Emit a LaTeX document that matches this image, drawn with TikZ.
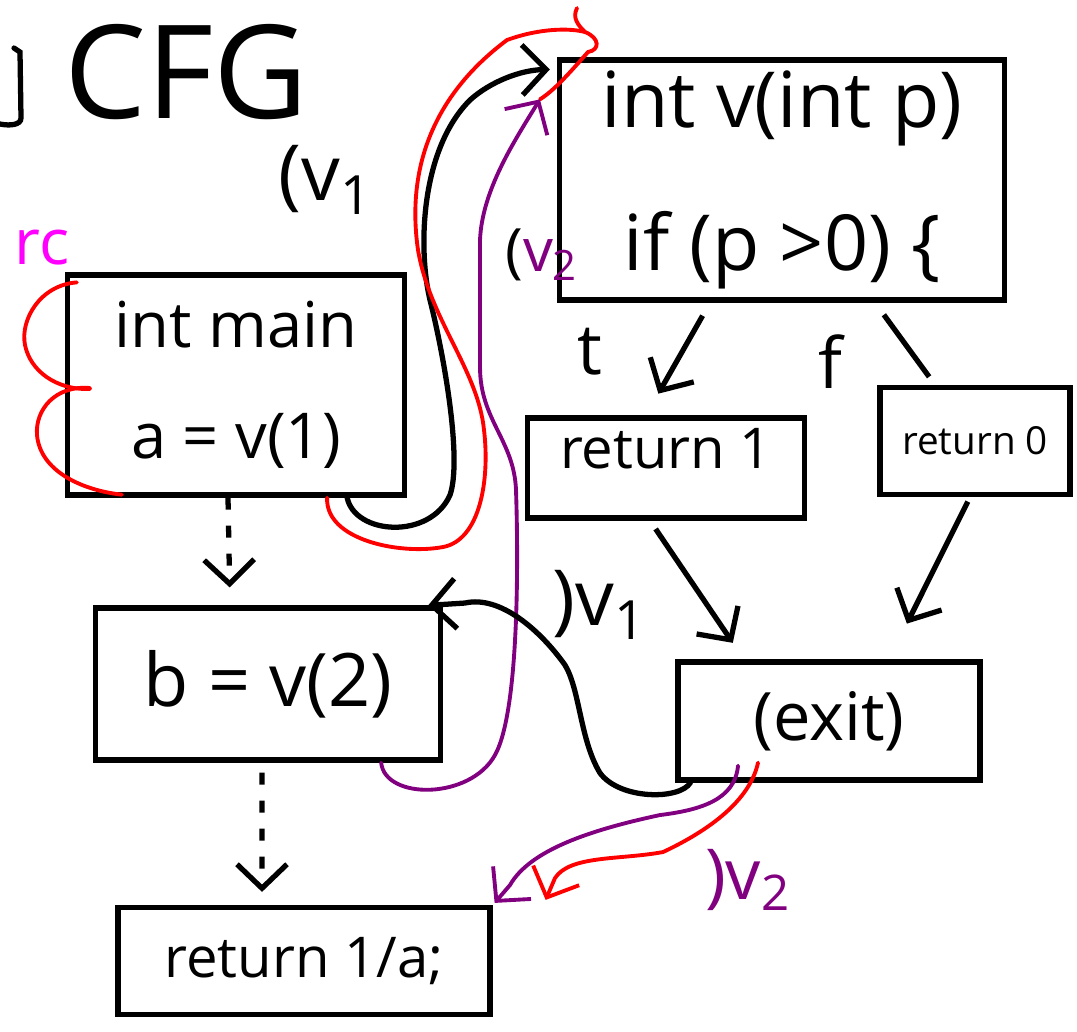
\documentclass[tikz,border=0pt]{standalone}
\usepackage{fontspec}
\setmainfont{Open Sans}
\usetikzlibrary{arrows.meta}
\definecolor{callred}{RGB}{255,0,0}
\definecolor{callpurple}{RGB}{128,0,128}
\definecolor{ctxmagenta}{RGB}{255,0,255}
\newcommand{\fs}[1]{\fontsize{#1}{1.4\dimexpr #1pt\relax}\selectfont}
\begin{document}
\begin{tikzpicture}[x=0.1mm,y=-0.1mm,
  blockbox/.style={draw,line width=1.5pt,inner sep=0pt,align=center},
  tip/.style={-{Straight Barb[length=2.4mm,width=5mm]}},
  flowedge/.style={line width=1.5pt,tip},
  dotedge/.style={line width=1.5pt,tip,dash pattern=on 1.2mm off 1.6mm},
  blackcall/.style={line width=1.5pt,line cap=round},
  redcall/.style={line width=1.1pt,callred,line cap=round},
  purplecall/.style={line width=1.1pt,callpurple,line cap=round},
  tag/.style={inner sep=0pt,font=\fs{20}}]
  \useasboundingbox (0,0) rectangle (1077,1031);
  % title
  \node[tag,font=\fs{37}] (title) at (186,72) {CFG};
  \draw[line width=1.5pt,line cap=round] (14,48) -- (20,52) -- (21,118) .. controls (21,125) and (10,126) .. (0,124);
  % blocks
  \node[blockbox,minimum width=33.7mm,minimum height=22mm,font=\fs{18}] (main) at (236,385) {int main\\[2.2mm]a = v(1)};
  \node[blockbox,minimum width=34.5mm,minimum height=15.2mm,font=\fs{21}] (bcall) at (268,684) {b = v(2)};
  \node[blockbox,minimum width=37.2mm,minimum height=10.7mm,font=\fs{16}] (ret) at (304,961) {return 1/a;};
  \node[blockbox,minimum width=44.5mm,minimum height=24mm,font=\fs{22}] (v) at (782,180) {int v(int p)\\[3.5mm]if (p >0) \{};
  \node[blockbox,minimum width=27.7mm,minimum height=10mm,font=\fs{16},text depth=4mm] (ret1) at (666,468) {return 1};
  \node[blockbox,minimum width=19mm,minimum height=10.7mm,font=\fs{11}] (ret0) at (975,441) {return 0};
  \node[blockbox,minimum width=30.2mm,minimum height=11.8mm,font=\fs{19}] (exit) at (829,721) {(exit)};
  % labels
  \node[tag,font=\fs{22}] (callone) at (326,180) {(v\textsubscript{1}};
  \node[tag,font=\fs{17}] (calltwo) at (542,255) {(\textcolor{callpurple}{v\textsubscript{2}}};
  \node[tag,font=\fs{22}] (retone) at (600,605) {)v\textsubscript{1}};
  \node[tag,font=\fs{20},text=callpurple] (rettwo) at (748,880) {)v\textsubscript{2}};
  \node[tag] (truelbl) at (590,352) {t};
  \node[tag] (falselbl) at (830,362) {f};
  \node[tag,font=\fs{18},text=ctxmagenta] (rclbl) at (42,248) {rc};
  % intra edges
  \draw[dotedge,shorten >=1.8mm] ([xshift=-0.8mm]main.south) -- ([xshift=-3.8mm]bcall.north);
  \draw[dotedge,shorten <=1mm,shorten >=1.3mm] ([xshift=-0.6mm]bcall.south) -- ([xshift=-4.2mm]ret.north);
  \draw[flowedge,shorten <=1.5mm,shorten >=2.5mm] ([xshift=-7.2mm]v.south) -- ([xshift=-2mm]ret1.north);
  \draw[line width=1.5pt,shorten <=1.5mm,shorten >=1mm] ([xshift=9.3mm]v.south) -- ([xshift=-4mm]ret0.north);
  \draw[flowedge,shorten <=1mm,shorten >=2mm] ([xshift=-1.6mm]ret1.south) -- ([xshift=-8.5mm]exit.north);
  \draw[flowedge,shorten <=0.5mm,shorten >=4mm] ([xshift=-0.5mm]ret0.south) -- ([xshift=6mm]exit.north);
  % call and return edges
  \coordinate (mcall) at ([xshift=-6mm]main.south east);
  \coordinate (mret) at ([xshift=-8mm]main.south east);
  \coordinate (bcallpt) at ([xshift=-6.2mm]bcall.south east);
  \coordinate (bret) at ([xshift=-1.5mm]bcall.north east);
  \coordinate (ventry) at ([xshift=-0.7mm,yshift=-1.2mm]v.north west);
  \coordinate (ventrylow) at ([xshift=-1.7mm,yshift=-4.2mm]v.north west);
  \coordinate (exitblack) at ([xshift=1.5mm]exit.south west);
  \coordinate (exitpurple) at ([xshift=-9.1mm,yshift=1.7mm]exit.south);
  \coordinate (exitred) at ([xshift=-7.1mm,yshift=2mm]exit.south);
  \coordinate (retentry) at ([xshift=0.2mm,yshift=0.2mm]ret.north east);
  \coordinate (retentryred) at ([xshift=5.3mm,yshift=0.5mm]ret.north east);
  \draw[blackcall,tip] (mcall) .. controls (355,535) and (430,540) .. (450,495)
    .. controls (462,460) and (445,360) .. (430,300)
    .. controls (418,250) and (420,150) .. (470,100)
    .. controls (490,82) and (520,70) .. (ventry);
  \draw[redcall] (mret) .. controls (325,540) and (400,555) .. (443,547)
    .. controls (480,540) and (490,480) .. (484,430)
    .. controls (478,370) and (430,320) .. (418,250)
    .. controls (405,160) and (440,90) .. (507,40)
    .. controls (540,28) and (570,28) .. (585,32)
    .. controls (600,38) and (600,50) .. (588,52)
    .. controls (572,70) and (555,90) .. (ventrylow);
  \draw[redcall] (577,8) .. controls (572,18) and (578,25) .. (585,32);
  \draw[purplecall,tip] (bcallpt) .. controls (385,800) and (470,800) .. (495,755)
    .. controls (520,710) and (518,550) .. (516,490)
    .. controls (514,440) and (480,420) .. (480,367) -- (480,240)
    .. controls (482,190) and (515,140) .. (ventrylow);
  \draw[blackcall,tip] (exitblack) .. controls (680,800) and (620,800) .. (600,773)
    .. controls (580,740) and (580,690) .. (565,665)
    .. controls (540,630) and (500,595) .. (465,603) -- (bret);
  \draw[purplecall,tip] (exitpurple) .. controls (735,800) and (700,810) .. (660,815)
    .. controls (590,830) and (530,850) .. (510,885) -- (retentry);
  \draw[redcall,tip] (exitred) .. controls (750,800) and (710,830) .. (663,852)
    .. controls (620,860) and (570,855) .. (555,878) -- (retentryred);
  % context braces
  \draw[redcall] ([xshift=1.2mm,yshift=-1mm]main.north west) .. controls (40,285) and (20,320) .. (25,345)
    .. controls (30,370) and (55,390) .. (90,389);
  \draw[redcall] (90,388) .. controls (55,385) and (35,410) .. (37,435)
    .. controls (40,470) and (80,490) .. ([xshift=5.7mm,yshift=0.3mm]main.south west);
\end{tikzpicture}
\end{document}
